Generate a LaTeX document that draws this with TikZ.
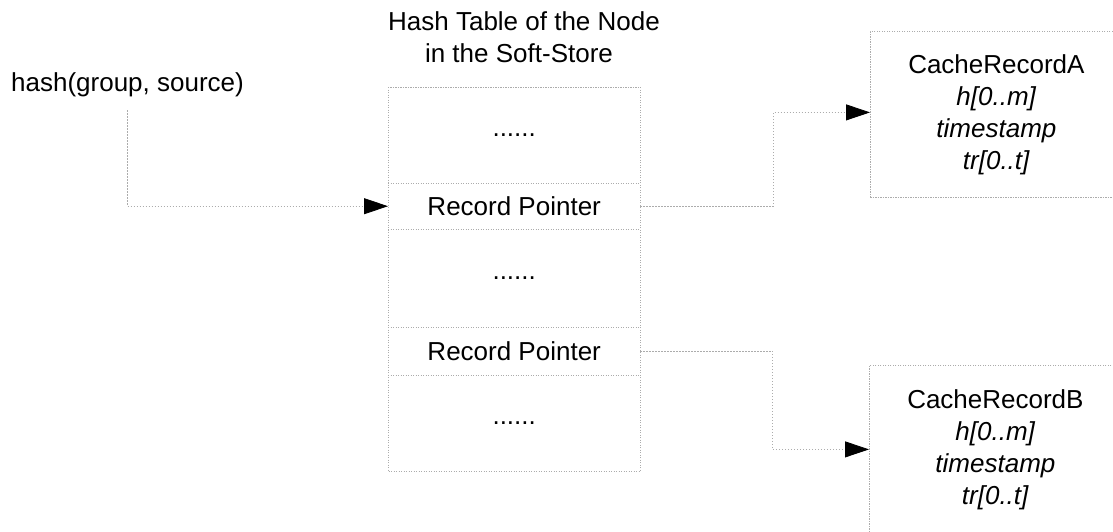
\documentclass[tikz,border=0pt]{standalone}
\usepackage{fontspec}
\setmainfont{Liberation Sans}
\usetikzlibrary{arrows.meta}
\begin{document}
\begin{tikzpicture}[x=1pt,y=-1pt,
  every node/.style={font=\fontsize{26}{32}\selectfont, inner sep=0pt},
  faint/.style={draw=gray!65, line width=0.8pt, dash pattern=on 1.2pt off 1.3pt},
  cell/.style={minimum width=252pt, anchor=north west},
  recbox/.style={faint, minimum width=252pt, anchor=north west, align=center},
  link/.style={gray!65, line width=0.8pt, dash pattern=on 1.2pt off 1.8pt,
    -{Triangle[length=24pt,width=16pt,color=black,fill=black]}}]
\useasboundingbox (0,0) rectangle (1113,531);
\clip (0,0) rectangle (1113,531);

% hash table heading and input label
\node[align=center] (title) at (524,37) {Hash Table of the Node\\\hspace*{-10pt}in the Soft-Store};
\node (hash) at (127.5,85) {hash(group, source)};

% table cells
\node[cell, minimum height=96pt] (r1) at (388,87) {......};
\node[cell, minimum height=46pt] (rp1) at (388,183) {Record Pointer};
\node[cell, minimum height=98pt] (r3) at (388,229) {......};
\node[cell, minimum height=48pt] (rp2) at (388,327) {Record Pointer};
\node[cell, minimum height=96pt] (r5) at (388,375) {......};

% table outline and row separators
\draw[faint] (r1.north west) rectangle (r5.south east);
\foreach \row in {rp1,r3,rp2,r5}
  \draw[faint] (\row.north west) -- (\row.north east);

% cache records
\node[recbox, minimum height=166pt] (cacheA) at (870,31)
  {CacheRecordA\\\textit{h[0..m]}\\\textit{timestamp}\\\textit{tr[0..t]}};
\node[recbox, minimum height=168pt] (cacheB) at (869,365)
  {CacheRecordB\\\textit{h[0..m]}\\\textit{timestamp}\\\textit{tr[0..t]}};

% connectors
\draw[link] ([yshift=-13pt]hash.south) |- (rp1.west);
\draw[link] (rp1.east) -- ++(133,0) |- ([yshift=2pt]cacheA.west);
\draw[link] (rp2.east) -- ++(132,0) |- (cacheB.west);
\end{tikzpicture}
\end{document}
